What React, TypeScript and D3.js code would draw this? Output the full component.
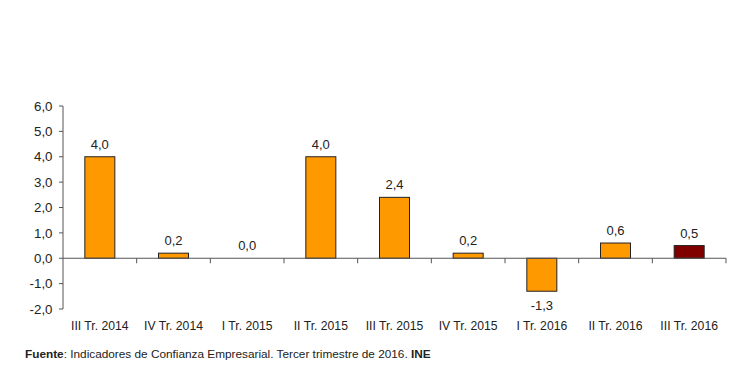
import * as d3 from "d3";

const categories = [
  "III Tr. 2014",
  "IV Tr. 2014",
  "I Tr. 2015",
  "II Tr. 2015",
  "III Tr. 2015",
  "IV Tr. 2015",
  "I Tr. 2016",
  "II Tr. 2016",
  "III Tr. 2016",
];
const values = [4.0, 0.2, 0.0, 4.0, 2.4, 0.2, -1.3, 0.6, 0.5];
const yTicks = [-2, -1, 0, 1, 2, 3, 4, 5, 6];

const fmt = (v: number) => v.toFixed(1).replace(".", ",");

export default function App() {
  const width = 730;
  const height = 370;
  const left = 63;
  const right = 726;

  const x = d3
    .scaleBand<string>()
    .domain(categories)
    .range([left, right])
    .paddingInner(0)
    .paddingOuter(0);

  const y = d3.scaleLinear().domain([-2, 6]).range([309, 106]);
  const barW = 30;
  const font = "'Liberation Sans', Arial, sans-serif";
  const axisColor = "#555";

  return (
    <svg
      width={width}
      height={height}
      style={{ position: "absolute", left: 0, top: 0, background: "#fff" }}
      fontFamily={font}
    >
      {/* y axis */}
      <line x1={left} x2={left} y1={y(6)} y2={y(-2)} stroke={axisColor} />
      {yTicks.map((t) => (
        <g key={t}>
          <line x1={left - 4} x2={left} y1={y(t)} y2={y(t)} stroke={axisColor} />
          <text
            x={52.5}
            y={y(t)}
            dy="0.35em"
            textAnchor="end"
            fontSize={13.3}
            fill="#222"
          >
            {fmt(t)}
          </text>
        </g>
      ))}

      {/* bars */}
      {values.map((v, i) => {
        const cx = x(categories[i])! + x.bandwidth() / 2;
        const top = Math.min(y(v), y(0));
        const h = Math.abs(y(v) - y(0));
        const last = i === values.length - 1;
        return (
          <g key={categories[i]}>
            {h > 0 && (
              <rect
                x={cx - barW / 2}
                y={top}
                width={barW}
                height={h}
                fill={last ? "#800000" : "#FF9900"}
                stroke="#222"
                strokeWidth={1}
              />
            )}
            <text
              x={cx}
              y={v < 0 ? y(v) + 19 : y(v) - 8}
              textAnchor="middle"
              fontSize={13}
              fill="#222"
            >
              {fmt(v)}
            </text>
          </g>
        );
      })}

      {/* x axis at zero */}
      <line x1={left} x2={right} y1={y(0)} y2={y(0)} stroke={axisColor} />
      {categories.map((c) => (
        <line
          key={"t" + c}
          x1={x(c)! + x.bandwidth()}
          x2={x(c)! + x.bandwidth()}
          y1={y(0)}
          y2={y(0) + 5}
          stroke={axisColor}
        />
      ))}
      {categories.map((c) => (
        <text
          key={"l" + c}
          x={x(c)! + x.bandwidth() / 2}
          y={330}
          textAnchor="middle"
          fontSize={12.2}
          fill="#222"
        >
          {c}
        </text>
      ))}

      {/* source */}
      <text x={25} y={358} fontSize={11.8} fill="#222">
        <tspan fontWeight="bold">Fuente</tspan>
        <tspan>: Indicadores de Confianza Empresarial. Tercer trimestre de 2016. </tspan>
        <tspan fontWeight="bold">INE</tspan>
      </text>
    </svg>
  );
}
